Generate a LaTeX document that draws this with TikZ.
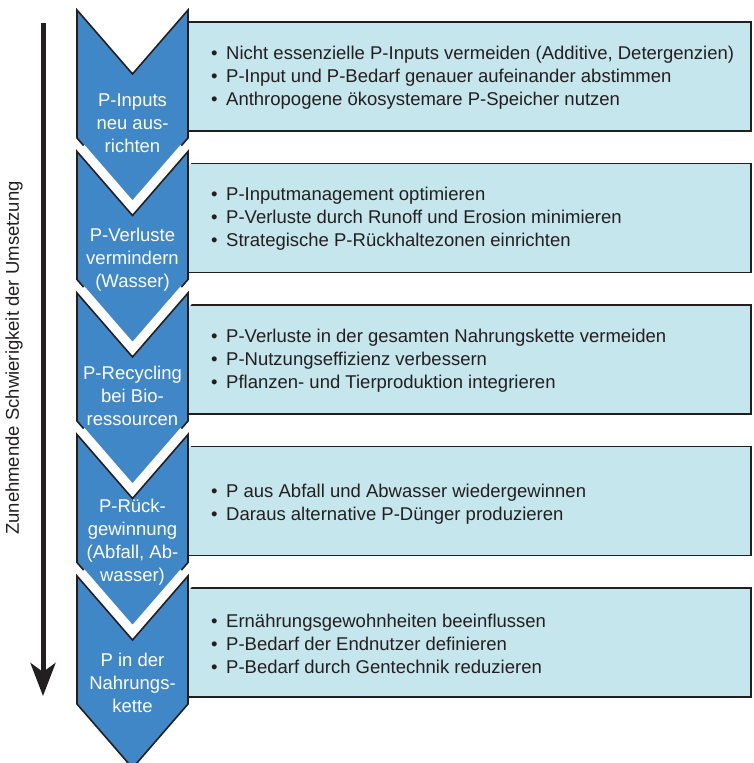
\documentclass[tikz,border=0pt]{standalone}
\usepackage{fontspec}
\setmainfont{Liberation Sans}
\usetikzlibrary{arrows.meta}
\definecolor{chev}{HTML}{4087C8}
\definecolor{boxc}{HTML}{C5E6EC}
\definecolor{ink}{HTML}{231F20}
\newcommand\bulitem{\makebox[15pt][l]{•}}
\begin{document}
\begin{tikzpicture}[x=1pt,y=-1pt,
  infobox/.style={fill=boxc,draw=ink,line width=1.6},
  chevfill/.style={fill=chev,draw=ink,line width=1.6,line join=miter},
  halo/.style={draw=white,line width=20,line cap=butt,line join=miter},
  chevtext/.style={text=white,align=center,font=\fontsize{18.5}{23}\selectfont,inner sep=0},
  bullets/.style={anchor=west,align=left,text=ink,font=\fontsize{18.5}{23}\selectfont,inner sep=0}]
\useasboundingbox (0,0) rectangle (753,763);
\clip (0,0) rectangle (753,763);
% boxes
\foreach \t in {10,151.5,293,434.5,576}{
  \draw[infobox] (188,\t+12) rectangle (751,\t+121);
}
% chevrons
\foreach \t [count=\i] in {10,151.5,293,434.5,576}{
  \ifnum\i>1 \draw[halo] (77,\t) -- (132.5,\t+64) -- (188,\t); \fi
  \draw[chevfill] (77,\t) -- (132.5,\t+64) -- (188,\t) -- (188,\t+128) -- (132.5,\t+192) -- (77,\t+128) -- cycle;
}
% chevron texts
\node[chevtext] (c1) at (132.5,123) {P-Inputs\\neu aus-\\richten};
\node[chevtext] (c2) at (132.5,260) {P-Verluste\\vermindern\\(Wasser)};
\node[chevtext] (c3) at (132.5,395.5) {P-Recycling\\bei Bio-\\ressourcen};
\node[chevtext] (c4) at (132.5,542.5) {P-Rück-\\gewinnung\\(Abfall, Ab-\\wasser)};
\node[chevtext] (c5) at (132.5,683) {P in der\\Nahrungs-\\kette};
% box texts
\node[bullets] (b1) at (211,78) {\bulitem Nicht essenzielle P-Inputs vermeiden (Additive, Detergenzien)\\\bulitem P-Input und P-Bedarf genauer aufeinander abstimmen\\\bulitem Anthropogene ökosystemare P-Speicher nutzen};
\node[bullets] (b2) at (211,219) {\bulitem P-Inputmanagement optimieren\\\bulitem P-Verluste durch Runoff und Erosion minimieren\\\bulitem Strategische P-Rückhaltezonen einrichten};
\node[bullets] (b3) at (211,360.5) {\bulitem P-Verluste in der gesamten Nahrungskette vermeiden\\\bulitem P-Nutzungseffizienz verbessern\\\bulitem Pflanzen- und Tierproduktion integrieren};
\node[bullets] (b4) at (211,504.5) {\bulitem P aus Abfall und Abwasser wiedergewinnen\\\bulitem Daraus alternative P-Dünger produzieren};
\node[bullets] (b5) at (211,644) {\bulitem Ernährungsgewohnheiten beeinflussen\\\bulitem P-Bedarf der Endnutzer definieren\\\bulitem P-Bedarf durch Gentechnik reduzieren};
% left arrow
\coordinate (a1) at (43,23);
\coordinate (a2) at (43,696);
\draw[line width=5,draw=ink,-{Stealth[length=33,width=25,inset=9]}] (a1) -- (a2);
\node[rotate=90,text=ink,font=\fontsize{18.5}{20}\selectfont,inner sep=0] (lab) at (14,358) {Zunehmende Schwierigkeit der Umsetzung};
\end{tikzpicture}
\end{document}
